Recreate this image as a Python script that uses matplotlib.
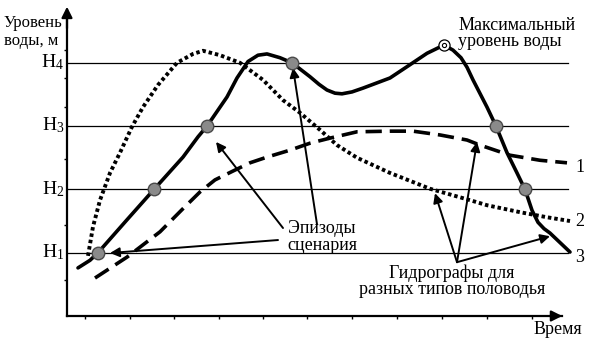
import matplotlib
matplotlib.use("Agg")
import matplotlib.pyplot as plt

plt.rcParams['font.family'] = ['Liberation Serif', 'DejaVu Serif']
plt.rcParams['mathtext.fontset'] = 'custom'
plt.rcParams['mathtext.rm'] = 'Liberation Serif'
plt.rcParams['mathtext.it'] = 'Liberation Serif'

# levels H1..H4
levels = [1, 2, 3, 4]
level_labels = ['H$_1$', 'H$_2$', 'H$_3$', 'H$_4$']

# hydrograph 3 (solid)
t3 = [2.2, 4.6, 6.2, 12.0, 17.4, 23.2, 26.2, 28.0, 32.0, 34.0, 36.2, 38.2, 40.0, 42.6,
      45.0, 48.6, 50.4, 52.0, 53.6, 55.0, 57.0, 59.2, 64.6, 68.6, 72.0, 74.6, 75.4,
      77.2, 78.8, 80.0, 81.2, 84.0, 85.8, 88.0, 90.0, 91.6, 93.0, 94.2, 95.4, 96.6,
      100.6]
h3 = [0.76, 0.88, 1.0, 1.52, 2.0, 2.51, 2.83, 3.0, 3.46, 3.76, 4.02, 4.12, 4.14, 4.08,
      4.0, 3.78, 3.66, 3.57, 3.52, 3.51, 3.54, 3.60, 3.76, 3.97, 4.15, 4.25, 4.28,
      4.20, 4.08, 3.93, 3.73, 3.30, 3.0, 2.58, 2.26, 2.0, 1.67, 1.48, 1.38, 1.31,
      1.01]

# hydrograph 2 (dotted)
t2 = [4.2, 5.2, 6.6, 8.6, 10.6, 13.0, 15.2, 18.2, 22.0, 25.2, 27.2, 30.6, 34.6, 39.2,
      43.2, 46.6, 50.6, 54.0, 58.0, 64.6, 72.6, 80.6, 84.0, 90.6, 96.0, 100.6]
h2 = [0.95, 1.41, 1.83, 2.26, 2.58, 2.99, 3.30, 3.65, 4.0, 4.14, 4.19, 4.12, 4.0, 3.73,
      3.41, 3.21, 2.94, 2.70, 2.50, 2.26, 2.01, 1.83, 1.75, 1.64, 1.56, 1.50]

# hydrograph 1 (dashed)
t1 = [5.6, 12.0, 18.6, 23.0, 26.6, 29.6, 33.2, 36.6, 40.0, 44.6, 48.6, 52.6, 58.0,
      64.6, 69.2, 74.6, 80.0, 82.6, 88.6, 94.6, 100.0]
h1 = [0.60, 0.93, 1.33, 1.68, 1.96, 2.15, 2.29, 2.42, 2.51, 2.62, 2.73, 2.81, 2.91,
      2.92, 2.92, 2.86, 2.78, 2.70, 2.54, 2.46, 2.42]

# scenario episodes (level crossings)
ep_t = [6.2, 17.4, 28.0, 45.0, 85.8, 91.6]
ep_h = [1, 2, 3, 4, 3, 2]
peak_t, peak_h = 75.4, 4.28

fig = plt.figure(figsize=(5.94, 3.46), dpi=100)
ax = fig.add_axes([0, 0, 1, 1])
ax.set_xlim(-13.4, 105.4)
ax.set_ylim(-0.474, 4.992)

for lv, lab in zip(levels, level_labels):
    ax.plot([0, 100.2], [lv, lv], color='black', lw=0.9)
    ax.text(-0.6, lv - 0.07, lab, ha='right', va='baseline', fontsize=14)

ax.plot(t1, h1, color='black', lw=2.6, linestyle=(0, (4.5, 2.2)))
ax.plot(t2, h2, color='black', lw=2.8, linestyle=(0, (0.9, 0.75)))
ax.plot(t3, h3, color='black', lw=2.6, solid_capstyle='round', solid_joinstyle='round')

ax.plot(ep_t, ep_h, 'o', ms=9, mfc='#8a8a8a', mec='#4a4a4a', mew=1.0, zorder=5)
ax.plot([peak_t], [peak_h], 'o', ms=8, mfc='white', mec='black', mew=0.9, zorder=5)
ax.plot([peak_t], [peak_h], 'o', ms=3, mfc='white', mec='black', mew=0.8, zorder=6)

# axes with arrows
for s in ['top', 'right']:
    ax.spines[s].set_visible(False)
ax.spines['left'].set_position(('data', 0))
ax.spines['bottom'].set_position(('data', 0))
ax.spines['left'].set_bounds(0, 4.8)
ax.spines['bottom'].set_bounds(0, 99)
ax.spines['left'].set_linewidth(1.6)
ax.spines['bottom'].set_linewidth(1.6)
ax.set_xticks([3.6, 12.6, 21.4, 30.4, 39.2, 48.0, 57.0, 66.0, 75.0, 84.0, 93.0])
ax.set_yticks([0.57, 1.44, 2.48, 3.30, 3.76, 4.20])
ax.tick_params(axis='both', direction='out', length=2.5, width=1, labelbottom=False, labelleft=False)
arrow = dict(arrowstyle='-|>', color='black', lw=1.6, mutation_scale=16)
ax.annotate('', xy=(0, 4.93), xytext=(0, 4.5), arrowprops=arrow)
ax.annotate('', xy=(99.6, 0), xytext=(96, 0), arrowprops=arrow)

ax.text(-12.6, 4.49, 'Уровень\nводы, м', fontsize=12, ha='left', va='center', linespacing=1.2)
ax.text(103.0, -0.22, 'Время', fontsize=13, ha='right', va='center')

ax.text(78.3, 4.46, 'Максимальный\nуровень воды', fontsize=13, ha='left', va='center',
        linespacing=0.95)
ax.text(51.0, 1.25, 'Эпизоды\nсценария', fontsize=13, ha='center', va='center',
        linespacing=0.95)
ax.text(77.0, 0.55, 'Гидрографы для\nразных типов половодья', fontsize=13, ha='center',
        va='center', linespacing=0.95)

for lab, y in zip(['1', '2', '3'], [2.35, 1.49, 0.92]):
    ax.text(102.6, y, lab, fontsize=13, ha='center', va='center')

pointer = dict(arrowstyle='-|>', color='black', lw=1.4, mutation_scale=14, shrinkA=0, shrinkB=0)
ax.annotate('', xy=(8.6, 0.995), xytext=(42.2, 1.20), arrowprops=pointer)
ax.annotate('', xy=(29.8, 2.75), xytext=(43.2, 1.39), arrowprops=pointer)
ax.annotate('', xy=(45.2, 3.92), xytext=(50.0, 1.45), arrowprops=pointer)
ax.annotate('', xy=(73.6, 1.94), xytext=(78.0, 0.85), arrowprops=pointer)
ax.annotate('', xy=(82.0, 2.75), xytext=(78.0, 0.85), arrowprops=pointer)
ax.annotate('', xy=(96.6, 1.26), xytext=(78.0, 0.85), arrowprops=pointer)

fig.savefig('out.png', dpi=100)
